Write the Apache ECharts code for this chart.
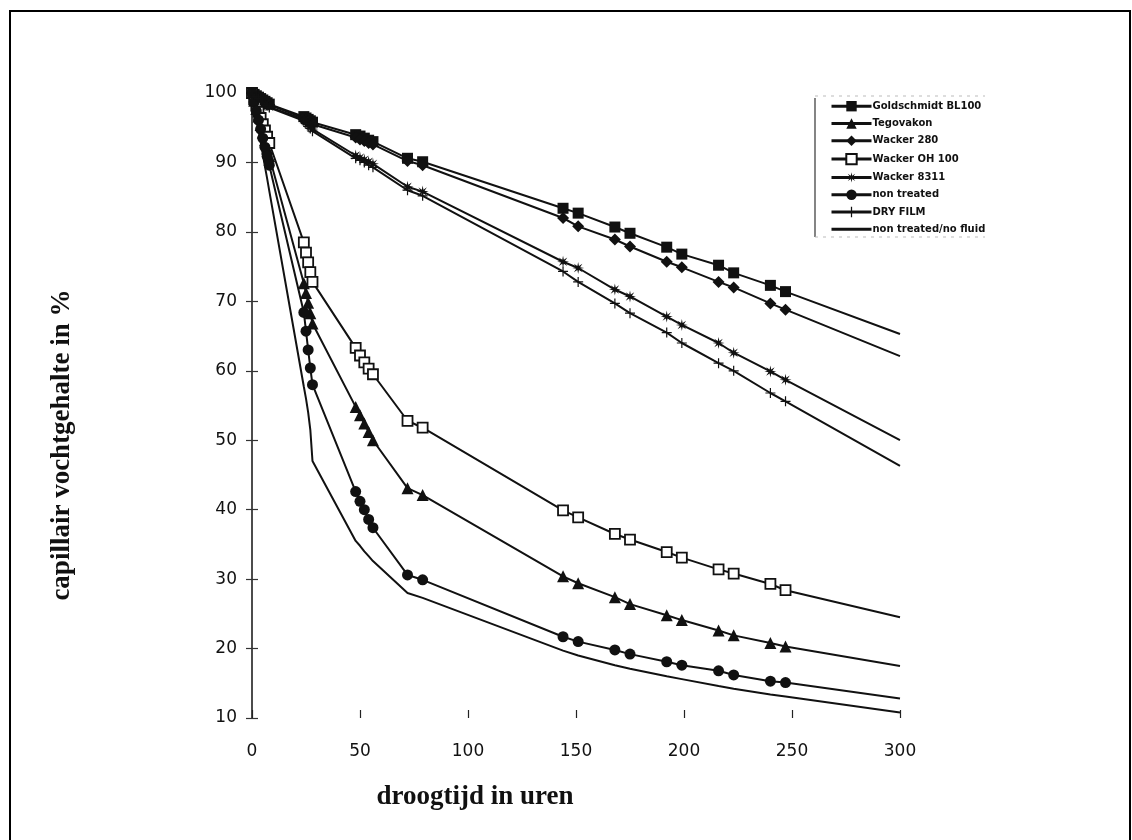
<!DOCTYPE html>
<html>
<head>
<meta charset="utf-8">
<script src="https://cdn.jsdelivr.net/npm/echarts@6/dist/echarts.min.js"></script>
<style>
html,body{margin:0;padding:0;background:#fff;}
#chart{width:1132px;height:840px;}
</style>
</head>
<body>
<div id="chart"></div>
<script>
// measurement times (hours)
const hours = [0,1,2,3,4,5,6,7,8, 24,25,26,27,28, 48,50,52,54,56, 72,79, 144,151,168,175,192,199,216,223,240,247, 300];
const xTicks = [0,50,100,150,200,250,300];
const yTicks = [10,20,30,40,50,60,70,80,90,100];

const goldschmidt = [100,99.8,99.6,99.4,99.2,99.0,98.8,98.6,98.4, 96.6,96.4,96.2,96.0,95.8, 94.0,93.8,93.5,93.2,93.0, 90.6,90.1, 83.4,82.7,80.7,79.8,77.8,76.8,75.2,74.1,72.3,71.4, 65.3];
const tegovakon   = [100,98.9,97.7,96.6,95.4,94.3,93.2,92.0,90.9, 72.6,71.2,69.8,68.3,66.8, 54.8,53.6,52.4,51.2,50.0, 43.1,42.1, 30.4,29.4,27.4,26.4,24.8,24.1,22.6,21.9,20.8,20.3, 17.5];
const wacker280   = [100,99.8,99.6,99.4,99.2,99.0,98.7,98.5,98.3, 96.4,96.2,95.9,95.7,95.5, 93.6,93.3,93.1,92.8,92.6, 90.2,89.6, 82.0,80.8,78.9,77.9,75.7,74.9,72.8,72.0,69.7,68.8, 62.1];
const wackerOH100 = [100,99.1,98.2,97.3,96.4,95.5,94.6,93.7,92.8, 78.5,77.0,75.6,74.2,72.8, 63.3,62.2,61.2,60.3,59.5, 52.8,51.8, 39.9,38.9,36.5,35.7,33.9,33.1,31.4,30.8,29.3,28.4, 24.5];
const wacker8311  = [100,99.75,99.5,99.25,99.0,98.75,98.5,98.25,98.0, 96.2,95.9,95.5,95.2,94.8, 91.0,90.7,90.4,90.1,89.8, 86.5,85.8, 75.7,74.8,71.7,70.7,67.8,66.6,64.0,62.6,59.9,58.7, 50.0];
const nonTreated  = [100,98.7,97.4,96.1,94.8,93.5,92.2,90.9,89.6, 68.4,65.7,63.0,60.4,58.0, 42.6,41.2,40.0,38.6,37.4, 30.6,29.9, 21.7,21.0,19.8,19.2,18.1,17.6,16.8,16.2,15.3,15.1, 12.8];
const dryFilm     = [100,99.7,99.5,99.2,99.0,98.7,98.4,98.2,97.9, 96.0,95.6,95.2,94.9,94.5, 90.6,90.3,90.0,89.6,89.3, 86.0,85.2, 74.3,72.8,69.7,68.3,65.5,64.0,61.1,60.0,56.8,55.6, 46.3];
const noFluid     = [100,98.2,96.5,94.7,93.0,91.2,89.4,87.7,85.9, 57.7,56.0,54.0,51.5,47.0, 35.5,34.8,34.0,33.3,32.6, 28.0,27.3, 19.7,19.0,17.6,17.1,16.0,15.6,14.6,14.2,13.4,13.1, 10.8];

const names = ['Goldschmidt BL100','Tegovakon','Wacker 280','Wacker OH 100','Wacker 8311','non treated','DRY FILM','non treated/no fluid'];

const asterisk = 'path://M10,0L11.34,6.77L17.07,2.93L13.23,8.66L20,10L13.23,11.34L17.07,17.07L11.34,13.23L10,20L8.66,13.23L2.93,17.07L6.77,11.34L0,10L6.77,8.66L2.93,2.93L8.66,6.77Z';
const plus = 'path://M8.8,0L11.2,0L11.2,8.8L20,8.8L20,11.2L11.2,11.2L11.2,20L8.8,20L8.8,11.2L0,11.2L0,8.8L8.8,8.8Z';

function toData(vals){
  return hours.map((h,i)=> i === hours.length-1 ? {value:[h, vals[i]], symbol:'none'} : [h, vals[i]]);
}

const specs = [
  {name:names[0], vals:goldschmidt, symbol:'rect', size:11},
  {name:names[1], vals:tegovakon, symbol:'triangle', size:12},
  {name:names[2], vals:wacker280, symbol:'diamond', size:12},
  {name:names[3], vals:wackerOH100, symbol:'rect', size:10, open:true},
  {name:names[4], vals:wacker8311, symbol:asterisk, size:12},
  {name:names[5], vals:nonTreated, symbol:'circle', size:11},
  {name:names[6], vals:dryFilm, symbol:plus, size:10},
  {name:names[7], vals:noFluid, symbol:'circle', size:1, hidden:true}
];

const series = specs.map(s => ({
  type:'line',
  name:s.name,
  data:toData(s.vals),
  symbol:s.symbol,
  symbolSize:s.size,
  showAllSymbol:true,
  lineStyle:{color:'#111', width:2},
  itemStyle: s.open ? {color:'#fff', borderColor:'#111', borderWidth:1.8}
            : s.hidden ? {color:'rgba(0,0,0,0)', borderWidth:0}
            : {color:'#111', borderWidth:0},
  emphasis:{disabled:true},
  z: 2
}));

const chart = echarts.init(document.getElementById('chart'), null, {renderer:'canvas'});
chart.setOption({
  animation:false,
  backgroundColor:'#fff',
  grid:{left:252, top:93, width:648, height:625},
  xAxis:{
    type:'value', min:0, max:300, interval:50,
    axisLine:{show:false},
    axisTick:{show:true, inside:true, length:8, lineStyle:{color:'#222', width:1.2}},
    splitLine:{show:false},
    axisLabel:{color:'#111', fontSize:17, fontFamily:'DejaVu Sans', margin:25,
      formatter: v => xTicks.includes(v) ? String(v) : ''}
  },
  yAxis:[{
    type:'value', min:10, max:100, interval:10,
    axisLine:{show:true, lineStyle:{color:'#111', width:1.5}},
    axisTick:{show:true, inside:false, length:6, lineStyle:{color:'#333', width:1.2}},
    splitLine:{show:false},
    axisLabel:{color:'#111', fontSize:17, fontFamily:'DejaVu Sans', margin:15,
      formatter: v => yTicks.includes(v) ? String(v) : ''}
  },{
    type:'value', min:10, max:100, interval:10, position:'left',
    axisLine:{show:false},
    axisTick:{show:true, inside:true, length:6, lineStyle:{color:'#333', width:1.2}},
    axisLabel:{show:false},
    splitLine:{show:false}
  }],
  legend:{
    orient:'vertical',
    left:830, top:101, padding:0,
    itemWidth:40, itemHeight:13, itemGap:6.9,
    data:names,
    lineStyle:{width:3},
    textStyle:{fontSize:10, fontWeight:'bold', color:'#111', fontFamily:'DejaVu Sans', padding:[0,0,0,-4]},
    selectedMode:false
  },
  graphic:[
    {type:'rect', shape:{x:10, y:11, width:1120, height:860}, style:{fill:'none', stroke:'#000', lineWidth:2}, silent:true},
    {type:'line', shape:{x1:815, y1:98, x2:815, y2:237}, style:{stroke:'#333', lineWidth:1.2}, silent:true},
    {type:'line', shape:{x1:815, y1:96, x2:985, y2:96}, style:{stroke:'#bbb', lineWidth:1, lineDash:[3,5]}, silent:true},
    {type:'line', shape:{x1:815, y1:237, x2:985, y2:237}, style:{stroke:'#bbb', lineWidth:1, lineDash:[3,5]}, silent:true},
    {type:'text', x:62, y:445, rotation:Math.PI/2,
      style:{text:'capillair vochtgehalte in %', fill:'#111', font:'bold 27px "Liberation Serif"', textAlign:'center', textVerticalAlign:'middle'}},
    {type:'text', x:475, y:797,
      style:{text:'droogtijd in uren', fill:'#111', font:'bold 27px "Liberation Serif"', textAlign:'center', textVerticalAlign:'middle'}}
  ],
  series: series
});
</script>
</body>
</html>
